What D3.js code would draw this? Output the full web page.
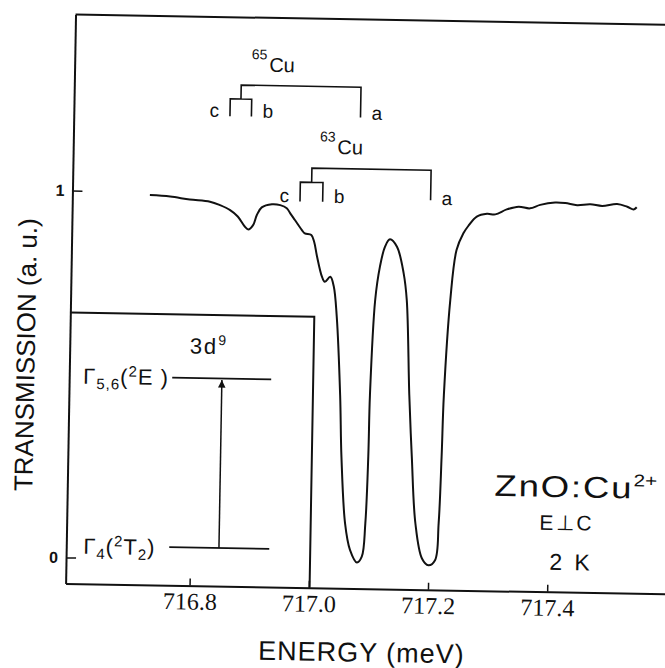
<!DOCTYPE html>
<html>
<head>
<meta charset="utf-8">
<script src="https://cdn.jsdelivr.net/npm/d3@7"></script>
<style>
  body { margin: 0; background: #fff; }
  svg { display: block; }
  text { fill: #111; }
</style>
</head>
<body>
<script>
// spectrum (energy in meV, transmission in a.u.)
var energy = [716.722, 716.756, 716.789, 716.823, 716.840, 716.857, 716.870, 716.882, 716.888, 716.896,
  716.902, 716.910, 716.927, 716.941, 716.952, 716.958, 716.966, 716.978, 716.983, 716.994,
  716.999, 717.004, 717.013, 717.018, 717.027, 717.033, 717.039, 717.047, 717.051, 717.059,
  717.068, 717.080, 717.088, 717.093, 717.096, 717.097, 717.103, 717.110, 717.118, 717.126,
  717.138, 717.150, 717.156, 717.163, 717.169, 717.177, 717.189, 717.200, 717.211, 717.216,
  717.219, 717.221, 717.229, 717.238, 717.249, 717.257, 717.271, 717.288, 717.302, 717.321,
  717.341, 717.360, 717.377, 717.402, 717.419, 717.439, 717.461, 717.481, 717.506, 717.523,
  717.534, 717.539];
var transmission = [0.991, 0.988, 0.981, 0.976, 0.967, 0.954, 0.937, 0.910, 0.902, 0.914,
  0.942, 0.963, 0.972, 0.970, 0.962, 0.948, 0.930, 0.903, 0.894, 0.890,
  0.871, 0.833, 0.777, 0.763, 0.777, 0.752, 0.669, 0.455, 0.287, 0.106,
  0.034, 0.000, 0.016, 0.107, 0.289, 0.457, 0.716, 0.807, 0.862, 0.882,
  0.862, 0.790, 0.717, 0.459, 0.291, 0.109, 0.014, -0.004, 0.010, 0.111,
  0.292, 0.460, 0.720, 0.856, 0.902, 0.922, 0.948, 0.956, 0.955, 0.969,
  0.977, 0.973, 0.983, 0.990, 0.989, 0.984, 0.987, 0.983, 0.989, 0.982,
  0.975, 0.981];

var energyTicks = [716.8, 717.0, 717.2, 717.4];
var transTicks = [0, 1];

// line positions c, b, a for the two isotopes
var lineNames = ['c', 'b', 'a'];
var cu65Lines = [716.854, 716.890, 717.073];
var cu63Lines = [716.974, 717.012, 717.193];

var W = 665, H = 668;
var sans = "'Liberation Sans', Arial, sans-serif";

var svg = d3.select('body').append('svg')
  .attr('width', W)
  .attr('height', H);

// the original is a slightly tilted scan
var g = svg.append('g').attr('transform', 'rotate(1,332,334)');

var x = d3.scaleLinear().domain([716.592, 717.607]).range([70, 675]);
var y = d3.scaleLinear().domain([-0.0708, 1.4796]).range([588, 19]);

// frame top
g.append('line')
  .attr('x1', x.range()[0]).attr('x2', x.range()[1])
  .attr('y1', y.range()[1]).attr('y2', y.range()[1])
  .attr('stroke', '#111').attr('stroke-width', 2);

var xAxis = g.append('g')
  .attr('transform', 'translate(0,' + y.range()[0] + ')')
  .call(d3.axisBottom(x).tickValues(energyTicks).tickSize(-7).tickSizeOuter(0)
    .tickPadding(7).tickFormat(d3.format('.1f')));
xAxis.select('.domain').attr('stroke', '#111').attr('stroke-width', 2);
xAxis.selectAll('.tick line').attr('stroke', '#111').attr('stroke-width', 1.5);
xAxis.selectAll('.tick text')
  .attr('fill', '#111')
  .style('font-family', "'Liberation Serif', serif")
  .style('font-size', '24px');

var yAxis = g.append('g')
  .attr('transform', 'translate(' + x.range()[0] + ',0)')
  .call(d3.axisLeft(y).tickValues(transTicks).tickSize(-10).tickSizeOuter(0)
    .tickPadding(8).tickFormat(d3.format('d')));
yAxis.select('.domain').attr('stroke', '#111').attr('stroke-width', 2);
yAxis.selectAll('.tick line').attr('stroke', '#111').attr('stroke-width', 1.5);
yAxis.selectAll('.tick text')
  .attr('fill', '#111')
  .style('font-family', sans)
  .style('font-weight', 'bold')
  .style('font-size', '16px');

// spectrum
var line = d3.line()
  .x(function(d) { return x(d[0]); })
  .y(function(d) { return y(d[1]); })
  .curve(d3.curveCatmullRom.alpha(0.5));

g.append('path')
  .datum(d3.zip(energy, transmission))
  .attr('d', line)
  .attr('fill', 'none')
  .attr('stroke', '#111')
  .attr('stroke-width', 2)
  .attr('stroke-linejoin', 'round');

// isotope brackets
function bracket(lines, topY, subTopY, bottomY, aBottom) {
  var xc = x(lines[0]), xb = x(lines[1]), xa = x(lines[2]), xm = (xc + xb) / 2;
  var p = d3.path();
  p.moveTo(xm, subTopY); p.lineTo(xm, topY); p.lineTo(xa, topY); p.lineTo(xa, aBottom);
  p.moveTo(xc, bottomY); p.lineTo(xc, subTopY); p.lineTo(xb, subTopY); p.lineTo(xb, bottomY);
  g.append('path').attr('d', p.toString())
    .attr('fill', 'none').attr('stroke', '#111').attr('stroke-width', 1.6);

  g.selectAll(null)
    .data(lines)
    .enter()
    .append('text')
    .attr('x', function(d, i) { return i === 0 ? x(d) - 11 : x(d) + 11; })
    .attr('y', bottomY + 1)
    .attr('text-anchor', function(d, i) { return i === 0 ? 'end' : 'start'; })
    .style('font-family', sans)
    .style('font-size', '19px')
    .text(function(d, i) { return lineNames[i]; });
}
bracket(cu65Lines, 86.7, 100.6, 118, 117);
bracket(cu63Lines, 168.5, 182.7, 202, 198.5);

function isotope(label, x0, y0) {
  var t = g.append('text').attr('x', x0).attr('y', y0).style('font-family', sans);
  t.append('tspan').style('font-size', '14px').text(label);
  t.append('tspan').attr('dx', 2).attr('dy', 12.5).style('font-size', '20px').text('Cu');
}
isotope('65', 247, 60.5);
isotope('63', 316.6, 141.5);

// inset: level scheme
g.append('path')
  .attr('d', 'M' + x.range()[0] + ',317H314V' + y.range()[0])
  .attr('fill', 'none').attr('stroke', '#111').attr('stroke-width', 2);

g.append('line').attr('x1', 173).attr('x2', 272).attr('y1', 380.5).attr('y2', 380.5)
  .attr('stroke', '#111').attr('stroke-width', 1.8);
g.append('line').attr('x1', 173).attr('x2', 273).attr('y1', 550).attr('y2', 550)
  .attr('stroke', '#111').attr('stroke-width', 1.8);

svg.append('defs').append('marker')
  .attr('id', 'head')
  .attr('viewBox', '0 0 10 10')
  .attr('refX', 10).attr('refY', 5)
  .attr('markerWidth', 5).attr('markerHeight', 9)
  .attr('orient', 'auto')
  .append('path').attr('d', 'M0,0L10,5L0,10Z').attr('fill', '#111');

g.append('line').attr('x1', 222.7).attr('x2', 222.7).attr('y1', 550).attr('y2', 382)
  .attr('stroke', '#111').attr('stroke-width', 1.5)
  .attr('marker-end', 'url(#head)');

var t3d = g.append('text').attr('x', 190).attr('y', 356)
  .style('font-family', sans).style('font-size', '22px').style('letter-spacing', '2px');
t3d.append('tspan').text('3d');
t3d.append('tspan').attr('dy', -9).style('font-size', '14px').text('9');

function level(x0, y0, sub, sup, term, termSub) {
  var t = g.append('text').attr('x', x0).attr('y', y0)
    .style('font-family', sans).style('font-size', '22px').style('letter-spacing', '1px');
  t.append('tspan').text('Γ');
  t.append('tspan').attr('dy', 5).style('font-size', '15px').text(sub);
  t.append('tspan').attr('dy', -5).text('(');
  t.append('tspan').attr('dy', -8).style('font-size', '15px').text(sup);
  t.append('tspan').attr('dy', 8).text(term);
  if (termSub) {
    t.append('tspan').attr('dy', 5).style('font-size', '15px').text(termSub);
    t.append('tspan').attr('dy', -5).text(')');
  } else {
    t.append('tspan').text(' )');
  }
}
level(84, 388, '5,6', '2', 'E', null);
level(87, 558, '4', '2', 'T', '2');

// sample labels (the scanned lettering is wide, hence the stretch)
var zno = g.append('text')
  .attr('transform', 'translate(497,493) scale(1.22,1)')
  .style('font-family', sans).style('font-size', '30px').style('letter-spacing', '1.5px');
zno.append('tspan').text('ZnO:Cu');
zno.append('tspan').attr('dy', -12).style('font-size', '17px').style('letter-spacing', '0px').text('2+');

g.append('text').attr('x', 570).attr('y', 526).attr('text-anchor', 'middle')
  .style('font-family', sans).style('font-size', '21px').style('letter-spacing', '2.5px')
  .text('E⊥C');
g.append('text').attr('x', 575).attr('y', 566).attr('text-anchor', 'middle')
  .style('font-family', sans).style('font-size', '23px').style('letter-spacing', '3px')
  .text('2 K');

// axis titles
g.append('text')
  .attr('transform', 'translate(26,360) rotate(-90)')
  .attr('text-anchor', 'middle')
  .attr('dy', '0.35em')
  .style('font-family', sans).style('font-size', '26px')
  .text('TRANSMISSION (a. u.)');

g.append('text')
  .attr('x', 367).attr('y', 661)
  .attr('text-anchor', 'middle')
  .style('font-family', sans).style('font-size', '27px').style('letter-spacing', '1px')
  .text('ENERGY (meV)');
</script>
</body>
</html>
